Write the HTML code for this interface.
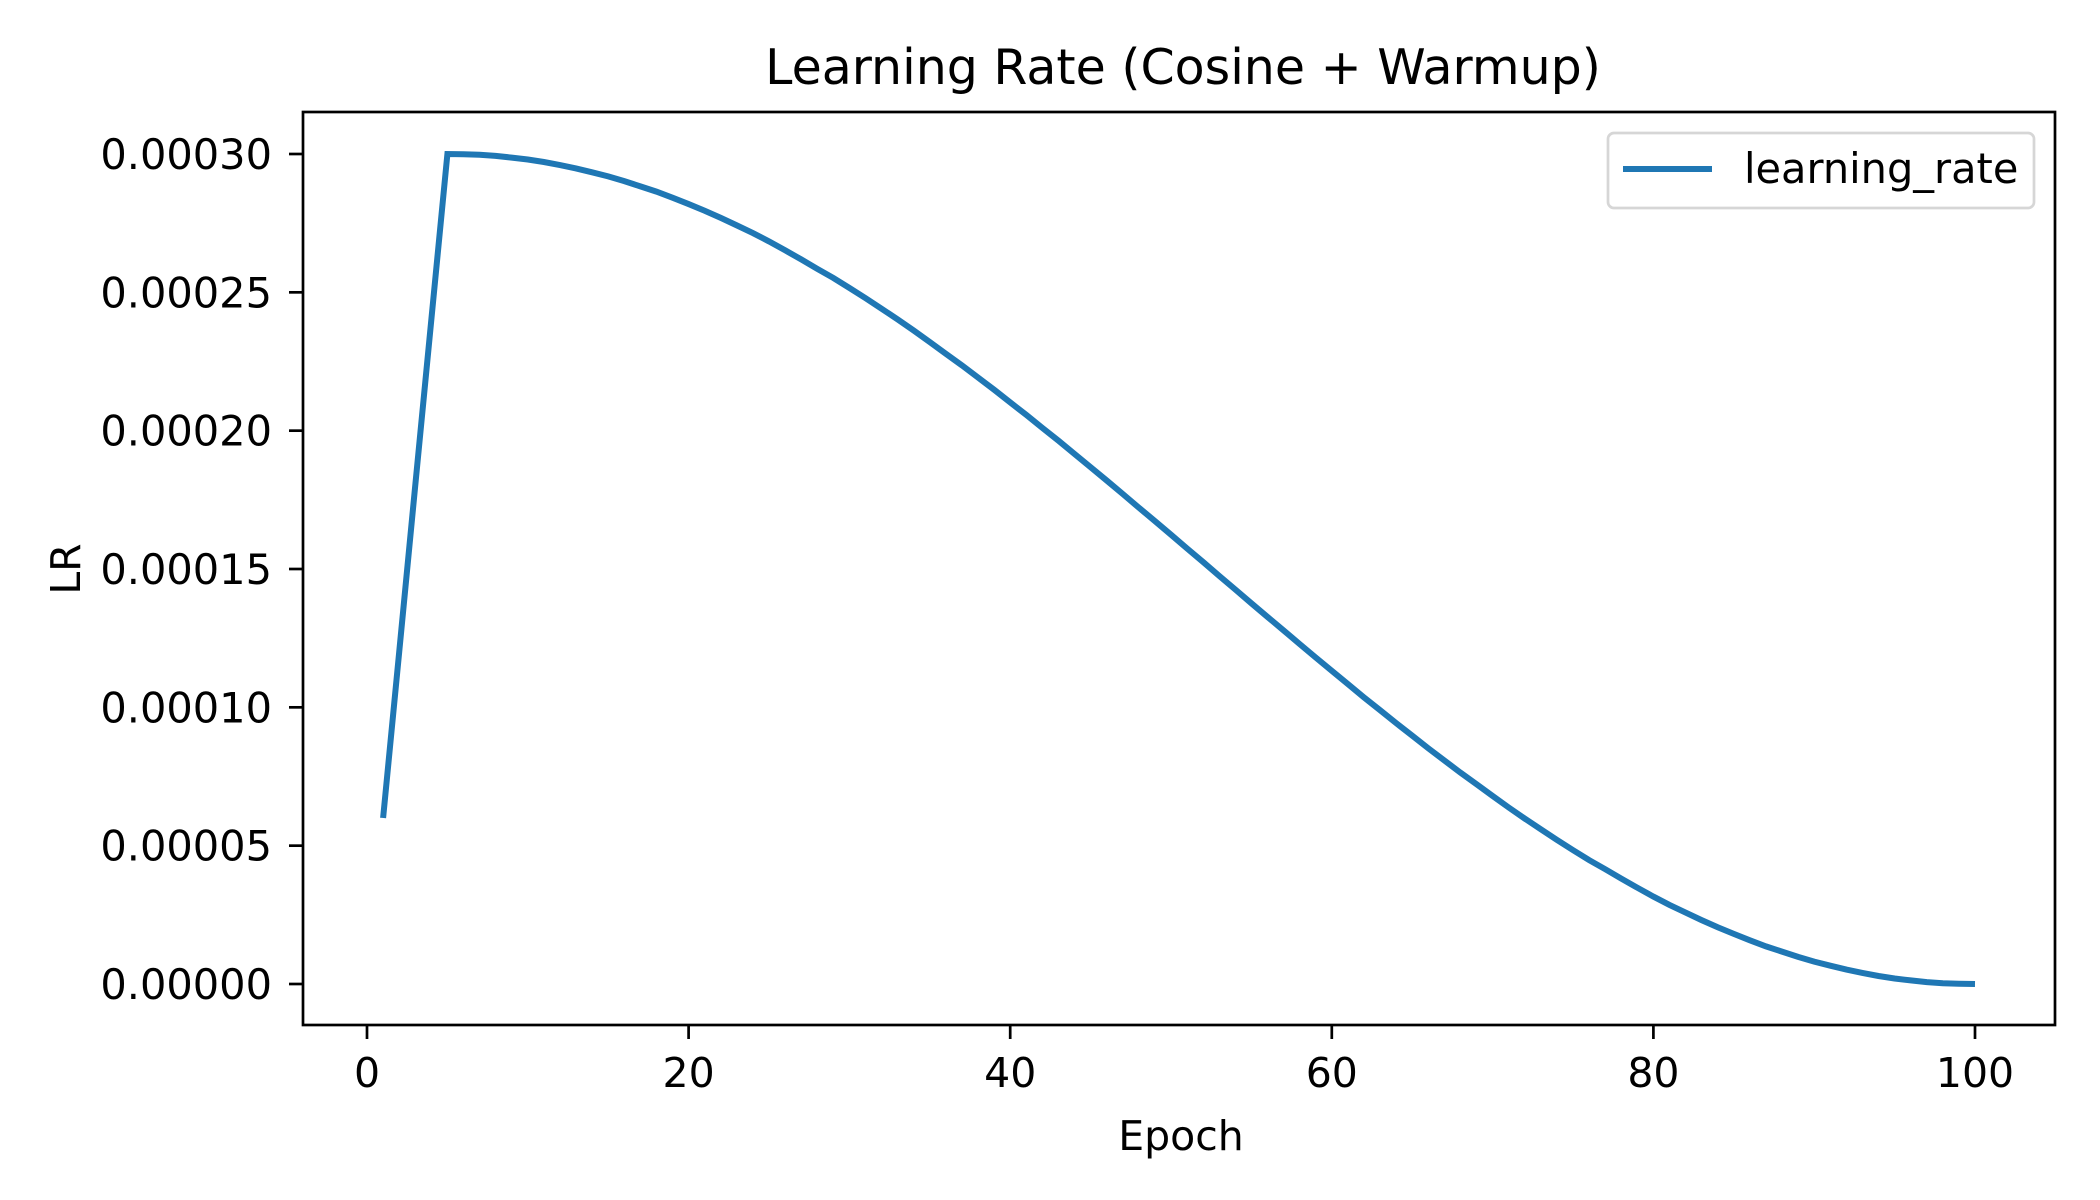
<!DOCTYPE html>
<html><head><meta charset="utf-8">
<style>html,body{margin:0;padding:0;background:#fff}svg{display:block}text{font-family:"DejaVu Sans","Liberation Sans",sans-serif;fill:#000}</style>
</head><body>
<svg id="chart" width="2100" height="1200" viewBox="0 0 2100 1200">
<rect width="2100" height="1200" fill="#fff"/>
<g id="plot"></g>
<rect x="303" y="112" width="1752" height="913" fill="none" stroke="#000" stroke-width="2.7"/>
<text x="1183" y="84" font-size="49" text-anchor="middle">Learning Rate (Cosine + Warmup)</text>
<text x="1181" y="1150" font-size="41" text-anchor="middle">Epoch</text>
<text transform="translate(80,569) rotate(-90)" font-size="41" text-anchor="middle">LR</text>
<g>
<rect x="1608" y="133" width="426" height="75" rx="6" fill="#fff" stroke="#d6d6d6" stroke-width="2.7"/>
<line x1="1623" y1="169" x2="1712" y2="169" stroke="#1f77b4" stroke-width="6"/>
<text x="1744" y="183" font-size="41.5">learning_rate</text>
</g>
</svg>
<script>
const epochs = Array.from({length:100},(_,i)=>i+1);
const lrValues = [6,12,18,24,30,29.99,29.97,29.93,29.87,29.80,29.71,29.60,29.48,29.34,29.19,29.02,28.83,28.64,28.42,28.19,27.95,27.69,27.42,27.14,26.84,26.52,26.19,25.85,25.52,25.16,24.79,24.41,24.02,23.62,23.20,22.78,22.36,21.92,21.48,21.02,20.57,20.10,19.64,19.16,18.68,18.20,17.71,17.22,16.73,16.24,15.74,15.25,14.75,14.26,13.76,13.27,12.78,12.29,11.80,11.32,10.84,10.36,9.90,9.43,8.98,8.52,8.08,7.64,7.22,6.80,6.38,5.98,5.59,5.21,4.84,4.48,4.15,3.81,3.48,3.16,2.86,2.58,2.31,2.05,1.81,1.58,1.36,1.17,0.98,0.81,0.66,0.52,0.40,0.29,0.20,0.13,0.07,0.03,0.01,0];
const xTicks = [0,20,40,60,80,100];
const yTicks = [0,5,10,15,20,25,30];
const yTickLabels = ["0.00000","0.00005","0.00010","0.00015","0.00020","0.00025","0.00030"];
const NS="http://www.w3.org/2000/svg";
const X = v => 367 + v*(1975-367)/100;
const Y = v => 984 - v*(984-154)/30;
const g = document.getElementById('plot');
function mk(t,a){const e=document.createElementNS(NS,t);for(const k in a)e.setAttribute(k,a[k]);g.appendChild(e);return e;}
xTicks.forEach(t=>{
  const l=mk('line',{x1:X(t),x2:X(t),y1:1025,y2:1039,stroke:'#000','stroke-width':2.7});
  
  
  const tx=mk('text',{x:X(t),y:1087,'font-size':41,'text-anchor':'middle'});tx.textContent=t;
  
  
});
yTicks.forEach((t,i)=>{
  const l=mk('line',{x1:289,x2:303,y1:Y(t),y2:Y(t),stroke:'#000','stroke-width':2.7});
  
  
  const tx=mk('text',{x:272,y:Y(t)+15,'font-size':41.5,'text-anchor':'end'});tx.textContent=yTickLabels[i];
  
  
});
const p=mk('path',{d:epochs.map((e,i)=>(i?'L':'M')+X(e).toFixed(1)+' '+Y(lrValues[i]).toFixed(1)).join(' '),fill:'none',stroke:'#1f77b4','stroke-width':6,'stroke-linejoin':'miter'});


</script>
</body></html>
